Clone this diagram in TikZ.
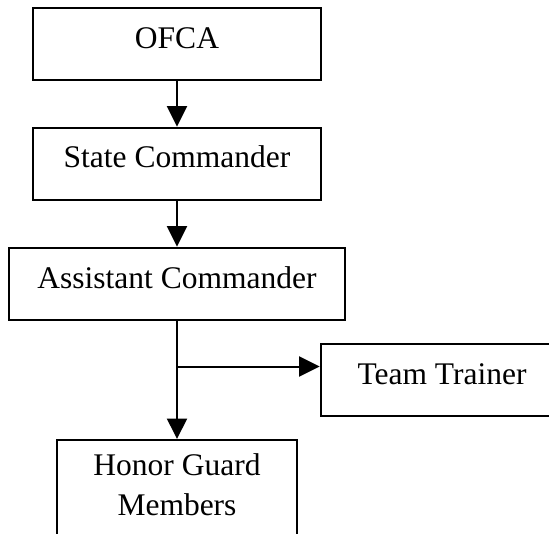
\documentclass[tikz,border=0pt]{standalone}
\usepackage{fontspec}
\setmainfont{Liberation Serif}
\usetikzlibrary{arrows.meta}
\begin{document}
\begin{tikzpicture}[x=1pt,y=-1pt,
  box/.style={draw=black,line width=2pt,inner sep=0pt,anchor=north,rectangle},
  lbl/.style={anchor=base,inner sep=0pt,font=\fontsize{31.5}{38}\selectfont},
  conn/.style={line width=2pt,-{Triangle[width=20pt,length=20.5pt]}}]
\useasboundingbox (0,0) rectangle (549,533);
\clip (0,0) rectangle (549,533);
\fill[white] (0,0) rectangle (549,533);
\node[box,minimum width=288.4pt,minimum height=72.3pt] (ofca) at (177,6.7) {};
\node[box,minimum width=288.4pt,minimum height=72.3pt] (state) at (177,126.7) {};
\node[box,minimum width=336.4pt,minimum height=72.3pt] (asst) at (177,246.7) {};
\node[box,minimum width=242pt,minimum height=72pt] (team) at (441.7,343) {};
\node[box,minimum width=240.7pt,minimum height=130pt] (honor) at (177,439) {};
\node[lbl] (tofca) at (177,48.3) {OFCA};
\node[lbl] (tstate) at (177,167.7) {State Commander};
\node[lbl] (tasst) at (177,288.3) {Assistant Commander};
\node[lbl] (tteam) at (442,384) {Team Trainer};
\node[lbl] (thonor1) at (177,475) {Honor Guard};
\node[lbl] (thonor2) at (177,515) {Members};
\coordinate (branch) at (177,366.5);
\draw[conn] (ofca.south) -- (state.north);
\draw[conn] (state.south) -- (asst.north);
\draw[conn] (asst.south) -- (honor.north);
\draw[conn] (branch) -- (branch -| team.west);
\end{tikzpicture}
\end{document}
